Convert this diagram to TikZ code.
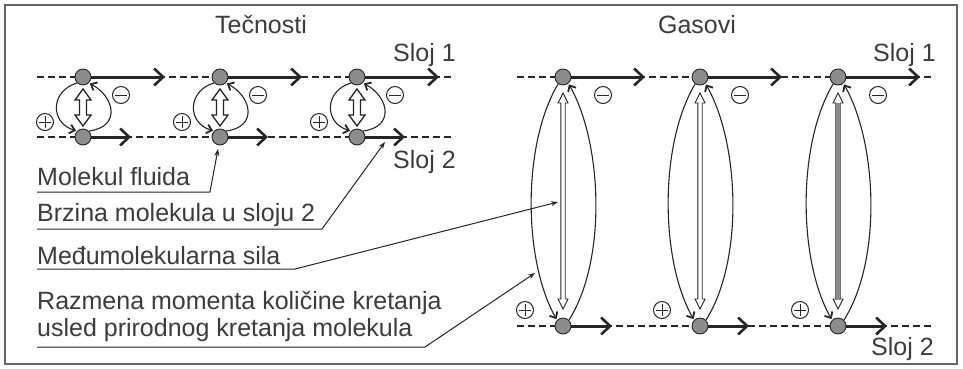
\documentclass[tikz,border=0pt]{standalone}
\usepackage{fontspec}
\setmainfont{Liberation Sans}
\usetikzlibrary{arrows.meta}

\definecolor{ink}{HTML}{262626}
\definecolor{txt}{HTML}{3C3C3C}
\definecolor{ball}{HTML}{8C8C8C}
\definecolor{framegray}{HTML}{666666}

\tikzset{
  molecule/.style={circle, draw=ink, fill=ball, line width=0.9pt, minimum size=16pt, inner sep=0pt},
  layerline/.style={draw=ink, dash pattern=on 7pt off 4pt, line width=1.2pt},
  velocity/.style={draw=ink, line width=3pt, -{Straight Barb[length=9pt,width=17pt,line width=2.6pt]}},
  exchange/.style={draw=ink, line width=1.1pt, shorten >=1pt, -{Straight Barb[length=5pt,width=9pt,line width=1.8pt]}},
  leader/.style={draw=ink, line width=1pt, -{Stealth[length=7pt,width=5pt]}},
  caption/.style={font=\fontsize{25}{28}\selectfont, text=txt, inner sep=0pt, anchor=base west},
  title/.style={font=\fontsize{25}{28}\selectfont, text=txt, inner sep=0pt, anchor=base},
  chargesign/.style={circle, draw=ink, line width=1pt, minimum size=17pt, inner sep=0pt},
  minussign/.style={chargesign, path picture={
      \draw[ink, line width=1pt]
        ([xshift=-6pt]path picture bounding box.center) -- ([xshift=6pt]path picture bounding box.center);}},
  plussign/.style={chargesign, path picture={
      \draw[ink, line width=1pt]
        ([xshift=-6pt]path picture bounding box.center) -- ([xshift=6pt]path picture bounding box.center)
        ([yshift=-6pt]path picture bounding box.center) -- ([yshift=6pt]path picture bounding box.center);}},
  hollowforce/.style={draw=ink, fill=white, line width=1.3pt, line join=miter},
  thinforce/.style={draw=ink, fill=white, line width=0.9pt, line join=miter},
}

\begin{document}
\begin{tikzpicture}[x=1pt, y=-1pt]
  \useasboundingbox (0,0) rectangle (963,368);
  \fill[white] (0,0) rectangle (963,368);
  \draw[framegray, line width=1.4pt] (5,5) rectangle (957,364);

  % ---------------- liquids ----------------
  \node[title] (tliq) at (261,33) {Tečnosti};
  \draw[layerline] (37,77) -- (455,77);
  \draw[layerline] (37,137) -- (455,137);
  \node[caption] (lsloj1) at (393,61) {Sloj 1};
  \node[caption] (lsloj2) at (393,168) {Sloj 2};

  \foreach \c/\i in {83/1,220/2,357/3}{
    \node[molecule] (lt\i) at (\c,77) {};
    \node[molecule] (lb\i) at (\c,137) {};
    \coordinate (ltv\i) at (\c+82,77);
    \coordinate (lbv\i) at (\c+48,137);
    \draw[velocity] (lt\i) -- (ltv\i);
    \draw[velocity] (lb\i) -- (lbv\i);
    % exchange of molecules between the layers
    \draw[exchange] (lt\i.225) .. controls +(-27,8) and +(-27,-8) .. (lb\i.135);
    \draw[exchange] (lb\i.45) .. controls +(32,-4) and +(26,14) .. (lt\i.-45);
    % intermolecular force
    \draw[hollowforce] (\c,89) -- (\c+8,100) -- (\c+3.5,100) -- (\c+3.5,115) -- (\c+8,115)
      -- (\c,126) -- (\c-8,115) -- (\c-3.5,115) -- (\c-3.5,100) -- (\c-8,100) -- cycle;
    \node[plussign] (lp\i) at (\c-38,122) {};
    \node[minussign] (lm\i) at (\c+38,95) {};
  }

  % ---------------- gases ----------------
  \node[title] (tgas) at (697,33) {Gasovi};
  \draw[layerline] (517,77) -- (935,77);
  \draw[layerline] (517,326) -- (935,326);
  \node[caption] (gsloj1) at (873,61) {Sloj 1};
  \node[caption] (gsloj2) at (871,355) {Sloj 2};

  \foreach \c/\i in {563/1,700/2,838/3}{
    \node[molecule] (gt\i) at (\c,77) {};
    \node[molecule] (gb\i) at (\c,326) {};
    \coordinate (gtv\i) at (\c+82,77);
    \coordinate (gbv\i) at (\c+49,326);
    \draw[velocity] (gt\i) -- (gtv\i);
    \draw[velocity] (gb\i) -- (gbv\i);
    \draw[exchange] (gt\i.235) .. controls +(-36,60) and +(-34,-60) .. (gb\i.135);
    \draw[exchange] (gb\i.45) .. controls +(38,-60) and +(34,60) .. (gt\i.-50);
    \draw[thinforce] (\c,93) -- (\c+5,103) -- (\c+2.2,103) -- (\c+2.2,299) -- (\c+5,299)
      -- (\c,309) -- (\c-5,299) -- (\c-2.2,299) -- (\c-2.2,103) -- (\c-5,103) -- cycle;
    \node[plussign] (gp\i) at (\c-38,310) {};
    \node[minussign] (gm\i) at (\c+40,95) {};
  }
  % shaded shaft of the last force arrow
  \fill[ball] (835.8,102.5) rectangle (840.2,299.5);

  % ---------------- captions with leaders ----------------
  \node[caption] (cmol) at (37,185) {Molekul fluida};
  \node[caption] (cvel) at (37,221) {Brzina molekula u sloju 2};
  \node[caption] (cforce) at (37,264) {Međumolekularna sila};
  \node[caption] (cexch) at (37,309) {Razmena momenta količine kretanja};
  \node[caption] (cexch2) at (37,336) {usled prirodnog kretanja molekula};

  \coordinate (umol0) at (37,192);   \coordinate (umol1) at (210,192);
  \coordinate (uvel0) at (37,229);   \coordinate (uvel1) at (322,229);
  \coordinate (ufor0) at (37,269);   \coordinate (ufor1) at (295,269);
  \coordinate (uexc0) at (37,347);   \coordinate (uexc1) at (425,347);
  \coordinate (pmol) at (218,149);
  \coordinate (pvel) at (385,142);
  \coordinate (pfor) at (558,202);
  \coordinate (pexc) at (535,273);

  \draw[leader] (umol0) -- (umol1) -- (pmol);
  \draw[leader] (uvel0) -- (uvel1) -- (pvel);
  \draw[leader] (ufor0) -- (ufor1) -- (pfor);
  \draw[leader] (uexc0) -- (uexc1) -- (pexc);
\end{tikzpicture}
\end{document}
